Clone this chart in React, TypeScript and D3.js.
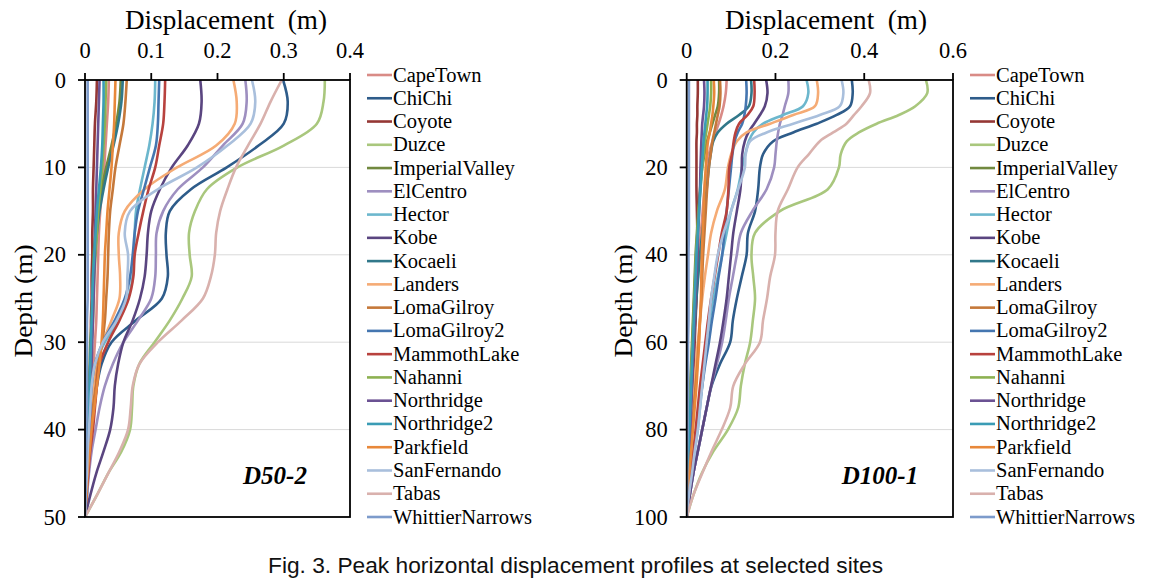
import React from "react";
import * as d3 from "d3";

const seriesNames = [
  "CapeTown", "ChiChi", "Coyote", "Duzce", "ImperialValley", "ElCentro", "Hector",
  "Kobe", "Kocaeli", "Landers", "LomaGilroy", "LomaGilroy2", "MammothLake", "Nahanni",
  "Northridge", "Northridge2", "Parkfield", "SanFernando", "Tabas", "WhittierNarrows",
];

const seriesColors = [
  "#D98B86", "#2E5C8A", "#953735", "#A9C77D", "#71893F", "#9E8FC0", "#6CB7CD",
  "#5A4580", "#31788A", "#F5AB75", "#C5783A", "#4576B0", "#B8423E", "#8DB151",
  "#6B5293", "#3A9CB5", "#E8883A", "#A9BFDC", "#D9B1AD", "#7D9BCB",
];

// ---------- Panel D50-2 ----------
const depthsA = [0, 2.5, 5, 7.5, 10, 12.5, 15, 17.5, 20, 22.5, 25, 27.5, 30, 32.5, 35, 37.5, 40, 42.5, 45, 47.5, 50];
const xTicksA = [0, 0.1, 0.2, 0.3, 0.4];
const yTicksA = [0, 10, 20, 30, 40, 50];

const capeTownA = [0.036, 0.035, 0.033, 0.031, 0.029, 0.026, 0.023, 0.021, 0.02, 0.019, 0.018, 0.017, 0.015, 0.013, 0.011, 0.009, 0.007, 0.005, 0.003, 0.001, 0];
const chiChiA = [0.299, 0.306, 0.3, 0.262, 0.214, 0.16, 0.128, 0.122, 0.123, 0.125, 0.116, 0.077, 0.04, 0.025, 0.018, 0.014, 0.01, 0.008, 0.005, 0.003, 0];
const coyoteA = [0.018, 0.017, 0.015, 0.014, 0.013, 0.012, 0.012, 0.011, 0.011, 0.01, 0.01, 0.009, 0.009, 0.008, 0.007, 0.006, 0.005, 0.004, 0.002, 0.001, 0];
const duzceA = [0.362, 0.36, 0.35, 0.3, 0.23, 0.184, 0.166, 0.157, 0.158, 0.161, 0.147, 0.128, 0.105, 0.082, 0.073, 0.071, 0.068, 0.055, 0.035, 0.018, 0];
const imperialValleyA = [0.054, 0.052, 0.047, 0.04, 0.032, 0.025, 0.02, 0.016, 0.013, 0.012, 0.011, 0.01, 0.008, 0.007, 0.006, 0.005, 0.004, 0.003, 0.002, 0.001, 0];
const elCentroA = [0.242, 0.244, 0.238, 0.208, 0.178, 0.14, 0.118, 0.108, 0.107, 0.106, 0.1, 0.08, 0.058, 0.042, 0.03, 0.022, 0.016, 0.01, 0.006, 0.003, 0];
const hectorA = [0.106, 0.105, 0.102, 0.097, 0.09, 0.083, 0.077, 0.075, 0.074, 0.072, 0.065, 0.05, 0.03, 0.015, 0.01, 0.008, 0.006, 0.004, 0.002, 0.001, 0];
const kobeA = [0.174, 0.176, 0.172, 0.155, 0.131, 0.113, 0.1, 0.095, 0.093, 0.09, 0.083, 0.072, 0.058, 0.05, 0.045, 0.043, 0.038, 0.028, 0.017, 0.008, 0];
const kocaeliA = [0.057, 0.055, 0.05, 0.043, 0.035, 0.028, 0.022, 0.018, 0.015, 0.013, 0.012, 0.011, 0.01, 0.008, 0.007, 0.006, 0.005, 0.004, 0.002, 0.001, 0];
const landersA = [0.224, 0.229, 0.226, 0.198, 0.139, 0.09, 0.06, 0.051, 0.051, 0.053, 0.052, 0.04, 0.027, 0.018, 0.012, 0.009, 0.006, 0.004, 0.003, 0.001, 0];
const lomaGilroyA = [0.063, 0.061, 0.058, 0.052, 0.046, 0.042, 0.038, 0.036, 0.035, 0.034, 0.032, 0.03, 0.026, 0.02, 0.016, 0.012, 0.009, 0.006, 0.004, 0.002, 0];
const lomaGilroy2A = [0.112, 0.111, 0.11, 0.107, 0.098, 0.089, 0.08, 0.075, 0.072, 0.068, 0.06, 0.045, 0.027, 0.015, 0.01, 0.008, 0.006, 0.004, 0.003, 0.001, 0];
const mammothLakeA = [0.121, 0.12, 0.118, 0.112, 0.106, 0.096, 0.088, 0.081, 0.075, 0.073, 0.066, 0.052, 0.035, 0.022, 0.018, 0.015, 0.012, 0.008, 0.005, 0.002, 0];
const nahanniA = [0.032, 0.031, 0.03, 0.028, 0.026, 0.023, 0.02, 0.018, 0.016, 0.014, 0.013, 0.012, 0.01, 0.009, 0.008, 0.007, 0.005, 0.004, 0.002, 0.001, 0];
const northridgeA = [0.022, 0.021, 0.02, 0.019, 0.018, 0.017, 0.016, 0.015, 0.015, 0.014, 0.013, 0.012, 0.011, 0.01, 0.009, 0.008, 0.006, 0.005, 0.003, 0.001, 0];
const northridge2A = [0.028, 0.028, 0.027, 0.026, 0.024, 0.021, 0.018, 0.016, 0.014, 0.012, 0.011, 0.01, 0.009, 0.008, 0.007, 0.006, 0.005, 0.004, 0.002, 0.001, 0];
const parkfieldA = [0.046, 0.045, 0.044, 0.042, 0.04, 0.037, 0.034, 0.032, 0.03, 0.029, 0.028, 0.027, 0.025, 0.022, 0.018, 0.014, 0.01, 0.007, 0.004, 0.002, 0];
const sanFernandoA = [0.252, 0.257, 0.25, 0.215, 0.169, 0.11, 0.068, 0.06, 0.065, 0.064, 0.062, 0.048, 0.027, 0.015, 0.01, 0.008, 0.006, 0.004, 0.003, 0.001, 0];
const tabasA = [0.297, 0.28, 0.265, 0.246, 0.228, 0.215, 0.204, 0.198, 0.196, 0.19, 0.178, 0.146, 0.11, 0.082, 0.072, 0.069, 0.065, 0.052, 0.035, 0.018, 0];
const whittierNarrowsA = [0.004, 0.004, 0.004, 0.004, 0.004, 0.004, 0.004, 0.004, 0.004, 0.004, 0.004, 0.003, 0.003, 0.003, 0.003, 0.003, 0.002, 0.002, 0.001, 0.001, 0];

// ---------- Panel D100-1 ----------
const depthsB = [0, 3, 6, 8, 10, 12, 14, 17, 20, 25, 30, 35, 40, 45, 50, 55, 60, 65, 70, 75, 80, 85, 90, 95, 100];
const xTicksB = [0, 0.2, 0.4, 0.6];
const yTicksB = [0, 20, 40, 60, 80, 100];

const capeTownB = [0.09, 0.088, 0.083, 0.078, 0.072, 0.065, 0.058, 0.05, 0.045, 0.04, 0.036, 0.032, 0.028, 0.025, 0.022, 0.019, 0.016, 0.013, 0.011, 0.009, 0.007, 0.005, 0.003, 0.001, 0];
const chiChiB = [0.372, 0.374, 0.368, 0.338, 0.293, 0.24, 0.195, 0.172, 0.165, 0.161, 0.154, 0.138, 0.135, 0.124, 0.113, 0.104, 0.098, 0.075, 0.056, 0.045, 0.035, 0.025, 0.015, 0.007, 0];
const coyoteB = [0.025, 0.025, 0.024, 0.024, 0.023, 0.023, 0.022, 0.022, 0.022, 0.022, 0.023, 0.024, 0.024, 0.023, 0.022, 0.02, 0.018, 0.016, 0.013, 0.011, 0.008, 0.006, 0.004, 0.002, 0];
const duzceB = [0.539, 0.542, 0.515, 0.478, 0.428, 0.388, 0.361, 0.347, 0.343, 0.318, 0.21, 0.154, 0.146, 0.15, 0.154, 0.149, 0.143, 0.131, 0.122, 0.116, 0.093, 0.06, 0.034, 0.015, 0];
const imperialValleyB = [0.073, 0.073, 0.07, 0.064, 0.058, 0.052, 0.046, 0.04, 0.035, 0.03, 0.026, 0.023, 0.02, 0.018, 0.016, 0.014, 0.012, 0.01, 0.008, 0.007, 0.005, 0.004, 0.002, 0.001, 0];
const elCentroB = [0.229, 0.229, 0.221, 0.216, 0.21, 0.206, 0.203, 0.2, 0.197, 0.18, 0.148, 0.122, 0.113, 0.104, 0.095, 0.088, 0.08, 0.068, 0.055, 0.045, 0.035, 0.025, 0.015, 0.007, 0];
const hectorB = [0.27, 0.274, 0.262, 0.217, 0.172, 0.15, 0.14, 0.132, 0.125, 0.115, 0.1, 0.09, 0.08, 0.07, 0.06, 0.052, 0.045, 0.04, 0.035, 0.03, 0.025, 0.018, 0.012, 0.005, 0];
const kobeB = [0.179, 0.182, 0.176, 0.165, 0.152, 0.139, 0.131, 0.125, 0.124, 0.121, 0.113, 0.105, 0.1, 0.095, 0.09, 0.083, 0.075, 0.065, 0.055, 0.045, 0.035, 0.025, 0.015, 0.007, 0];
const kocaeliB = [0.145, 0.146, 0.14, 0.118, 0.09, 0.07, 0.06, 0.054, 0.05, 0.045, 0.04, 0.035, 0.03, 0.026, 0.022, 0.019, 0.016, 0.013, 0.01, 0.008, 0.006, 0.004, 0.003, 0.001, 0];
const landersB = [0.293, 0.296, 0.289, 0.24, 0.188, 0.135, 0.113, 0.1, 0.093, 0.086, 0.068, 0.055, 0.048, 0.041, 0.035, 0.03, 0.025, 0.021, 0.018, 0.015, 0.012, 0.008, 0.005, 0.002, 0];
const lomaGilroyB = [0.075, 0.076, 0.074, 0.07, 0.066, 0.062, 0.058, 0.054, 0.05, 0.046, 0.043, 0.04, 0.037, 0.035, 0.033, 0.03, 0.027, 0.024, 0.02, 0.016, 0.012, 0.009, 0.006, 0.003, 0];
const lomaGilroy2B = [0.134, 0.135, 0.133, 0.13, 0.125, 0.115, 0.108, 0.103, 0.1, 0.095, 0.09, 0.085, 0.08, 0.072, 0.065, 0.057, 0.05, 0.042, 0.035, 0.028, 0.022, 0.016, 0.01, 0.005, 0];
const mammothLakeB = [0.152, 0.153, 0.15, 0.137, 0.118, 0.11, 0.106, 0.102, 0.096, 0.094, 0.09, 0.079, 0.071, 0.063, 0.055, 0.048, 0.042, 0.036, 0.03, 0.025, 0.02, 0.015, 0.01, 0.005, 0];
const nahanniB = [0.055, 0.055, 0.053, 0.05, 0.047, 0.044, 0.041, 0.038, 0.035, 0.031, 0.027, 0.024, 0.021, 0.019, 0.017, 0.015, 0.013, 0.011, 0.009, 0.007, 0.005, 0.004, 0.002, 0.001, 0];
const northridgeB = [0.039, 0.04, 0.039, 0.037, 0.035, 0.034, 0.033, 0.032, 0.031, 0.03, 0.028, 0.026, 0.024, 0.022, 0.02, 0.018, 0.016, 0.014, 0.012, 0.01, 0.008, 0.006, 0.004, 0.002, 0];
const northridge2B = [0.047, 0.047, 0.046, 0.044, 0.042, 0.04, 0.038, 0.036, 0.034, 0.031, 0.028, 0.025, 0.022, 0.02, 0.018, 0.016, 0.014, 0.012, 0.01, 0.008, 0.006, 0.004, 0.003, 0.001, 0];
const parkfieldB = [0.061, 0.062, 0.06, 0.058, 0.055, 0.052, 0.048, 0.045, 0.043, 0.04, 0.038, 0.036, 0.034, 0.033, 0.032, 0.03, 0.028, 0.025, 0.022, 0.018, 0.014, 0.01, 0.006, 0.003, 0];
const sanFernandoB = [0.349, 0.353, 0.345, 0.3, 0.24, 0.18, 0.143, 0.133, 0.131, 0.116, 0.1, 0.083, 0.07, 0.062, 0.055, 0.05, 0.045, 0.04, 0.035, 0.03, 0.025, 0.018, 0.012, 0.005, 0];
const tabasB = [0.41, 0.413, 0.394, 0.377, 0.36, 0.33, 0.3, 0.275, 0.25, 0.228, 0.205, 0.2, 0.199, 0.188, 0.181, 0.172, 0.165, 0.131, 0.105, 0.098, 0.079, 0.056, 0.035, 0.015, 0];
const whittierNarrowsB = [0.005, 0.005, 0.005, 0.005, 0.005, 0.005, 0.005, 0.005, 0.005, 0.005, 0.005, 0.005, 0.004, 0.004, 0.004, 0.004, 0.003, 0.003, 0.003, 0.002, 0.002, 0.001, 0.001, 0.001, 0];

const valuesA = [capeTownA, chiChiA, coyoteA, duzceA, imperialValleyA, elCentroA, hectorA, kobeA, kocaeliA, landersA, lomaGilroyA, lomaGilroy2A, mammothLakeA, nahanniA, northridgeA, northridge2A, parkfieldA, sanFernandoA, tabasA, whittierNarrowsA];
const valuesB = [capeTownB, chiChiB, coyoteB, duzceB, imperialValleyB, elCentroB, hectorB, kobeB, kocaeliB, landersB, lomaGilroyB, lomaGilroy2B, mammothLakeB, nahanniB, northridgeB, northridge2B, parkfieldB, sanFernandoB, tabasB, whittierNarrowsB];

const SERIF = "'Liberation Serif', 'DejaVu Serif', serif";

type PanelProps = {
  left: number; right: number; top: number; bottom: number;
  xMax: number; yMax: number; xTicks: number[]; yTicks: number[];
  depths: number[]; values: number[][]; legendX: number; label: string;
  titleCx: number; depthLabelX: number; labelCx: number;
};

function Panel(p: PanelProps) {
  const x = d3.scaleLinear().domain([0, p.xMax]).range([p.left, p.right]);
  const y = d3.scaleLinear().domain([0, p.yMax]).range([p.top, p.bottom]);
  const line = d3.line<[number, number]>()
    .x((d) => x(d[0]))
    .y((d) => y(d[1]))
    .curve(d3.curveCatmullRom.alpha(0.5));
  const fmt = (v: number) => (v === 0 ? "0" : String(v));
  const legendY0 = 75;
  const legendStep = (517 - 75) / 19;
  return (
    <g>
      {p.yTicks.filter((t) => t !== 0 && t !== p.yMax).map((t) => (
        <line key={"g" + t} x1={p.left} x2={p.right} y1={y(t)} y2={y(t)} stroke="#d9d9d9" strokeWidth={1} />
      ))}
      <clipPath id={"clip" + p.label}>
        <rect x={p.left} y={p.top} width={p.right - p.left} height={p.bottom - p.top} />
      </clipPath>
      <g clipPath={`url(#clip${p.label})`}>
        {p.values.map((vals, i) => (
          <path key={seriesNames[i]}
            d={line(vals.map((v, j) => [v, p.depths[j]] as [number, number])) || ""}
            fill="none" stroke={seriesColors[i]} strokeWidth={2.6} strokeLinejoin="round" />
        ))}
      </g>
      <rect x={p.left} y={p.top} width={p.right - p.left} height={p.bottom - p.top} fill="none" stroke="#000" strokeWidth={1.8} />
      {p.xTicks.map((t) => (
        <g key={"x" + t}>
          <line x1={x(t)} x2={x(t)} y1={p.top} y2={p.top - 7} stroke="#000" strokeWidth={1.8} />
          <text x={x(t)} y={58} textAnchor="middle" fontFamily={SERIF} fontSize={22.5} fill="#000">{fmt(t)}</text>
        </g>
      ))}
      {p.yTicks.map((t) => (
        <g key={"y" + t}>
          <line x1={p.left - 7} x2={p.left} y1={y(t)} y2={y(t)} stroke="#000" strokeWidth={1.8} />
          <text x={p.left - 19} y={y(t) + 7.5} textAnchor="end" fontFamily={SERIF} fontSize={22.5} fill="#000">{fmt(t)}</text>
        </g>
      ))}
      <text x={p.titleCx} y={29} textAnchor="middle" fontFamily={SERIF} fontSize={27}
        textLength={202} lengthAdjust="spacingAndGlyphs" fill="#000" style={{ whiteSpace: "pre" }}>Displacement  (m)</text>
      <text transform={`translate(${p.depthLabelX},301) rotate(-90)`} textAnchor="middle" fontFamily={SERIF} fontSize={26}
        textLength={113} lengthAdjust="spacingAndGlyphs" fill="#000">Depth (m)</text>
      <text x={p.labelCx} y={484} textAnchor="middle" fontFamily={SERIF} fontSize={25} fontWeight="bold" fontStyle="italic" fill="#000">{p.label}</text>
      {seriesNames.map((n, i) => {
        const ly = legendY0 + i * legendStep;
        return (
          <g key={"l" + n}>
            <line x1={p.legendX} x2={p.legendX + 25} y1={ly} y2={ly} stroke={seriesColors[i]} strokeWidth={2.6} />
            <text x={p.legendX + 26} y={ly + 6.5} fontFamily={SERIF} fontSize={20.5} fill="#000">{n}</text>
          </g>
        );
      })}
    </g>
  );
}

export default function App() {
  return (
    <svg width={1157} height={582} style={{ position: "absolute", left: 0, top: 0, background: "#fff" }}>
      <rect x={0} y={0} width={1157} height={582} fill="#fff" />
      <Panel left={85} right={350} top={80} bottom={517} xMax={0.4} yMax={50}
        xTicks={xTicksA} yTicks={yTicksA} depths={depthsA} values={valuesA}
        legendX={367} label="D50-2" titleCx={226} depthLabelX={32} labelCx={275} />
      <Panel left={686.7} right={953} top={80} bottom={517} xMax={0.6} yMax={100}
        xTicks={xTicksB} yTicks={yTicksB} depths={depthsB} values={valuesB}
        legendX={970} label="D100-1" titleCx={826} depthLabelX={632} labelCx={880} />
      <text x={268} y={573} textLength={615} lengthAdjust="spacingAndGlyphs"
        fontFamily="'Liberation Sans Narrow', 'Liberation Sans', Arial, sans-serif" fontSize={22} fill="#111">
        Fig. 3. Peak horizontal displacement profiles at selected sites
      </text>
    </svg>
  );
}
